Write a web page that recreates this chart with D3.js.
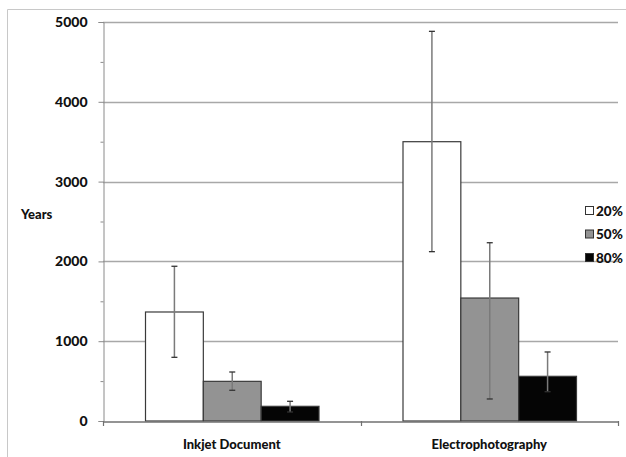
<!DOCTYPE html>
<html><head><meta charset="utf-8">
<script src="https://cdn.jsdelivr.net/npm/d3@7"></script>
<style>body{margin:0;background:#fff}svg{display:block}</style>
</head><body>
<svg id="c" width="626" height="457"></svg>
<script>
const categories = ["Inkjet Document", "Electrophotography"];
const seriesNames = ["20%", "50%", "80%"];
const seriesColors = ["#ffffff", "#939393", "#050505"];
const values20 = [1366, 3500];
const values50 = [497, 1541];
const values80 = [184, 560];
const errHigh20 = [1939, 4883];
const errLow20 = [798, 2122];
const errHigh50 = [614, 2234];
const errLow50 = [385, 276];
const errHigh80 = [247, 865];
const errLow80 = [113, 367];
const yTicks = [0, 1000, 2000, 3000, 4000, 5000];
const yMinorTicks = [500, 1500, 2500, 3500, 4500];

const series = [
  {name: seriesNames[0], color: seriesColors[0], v: values20, hi: errHigh20, lo: errLow20},
  {name: seriesNames[1], color: seriesColors[1], v: values50, hi: errHigh50, lo: errLow50},
  {name: seriesNames[2], color: seriesColors[2], v: values80, hi: errHigh80, lo: errLow80}
];

const svg = d3.select("#c");
const font = "Lato, 'Liberation Sans', sans-serif";
const fw = 900;
const L = 103, R = 618, T = 22, B = 421;

// outer frame
svg.append("line").attr("x1", 7.5).attr("x2", 626).attr("y1", 9.5).attr("y2", 9.5).attr("stroke", "#c8c8c8");
svg.append("line").attr("x1", 7.5).attr("x2", 7.5).attr("y1", 9.5).attr("y2", 457).attr("stroke", "#c8c8c8");

const y = d3.scaleLinear().domain([0, 5000]).range([B, T]);
const x0 = d3.scaleBand().domain(categories).range([L, R]).paddingInner(0).paddingOuter(0);
const groupPad = 42;
const x1 = d3.scaleBand().domain(seriesNames).range([groupPad, x0.bandwidth() - groupPad]);

// gridlines
svg.append("g").selectAll("line").data(yTicks.filter(d => d > 0)).join("line")
  .attr("x1", L).attr("x2", R)
  .attr("y1", d => Math.round(y(d)) + 0.5).attr("y2", d => Math.round(y(d)) + 0.5)
  .attr("stroke", "#a8a8a8").attr("stroke-width", 1.3);

// y axis
const yAxis = d3.axisLeft(y).tickValues(yTicks).tickSize(5).tickPadding(11).tickFormat(d3.format("d"));
const gy = svg.append("g").attr("transform", `translate(${L + 0.5},0)`).call(yAxis);
gy.select(".domain").attr("stroke", "#8a8a8a");
gy.selectAll(".tick line").attr("stroke", "#8a8a8a");
gy.selectAll(".tick text").attr("font-family", font).attr("font-weight", fw).attr("font-size", 14).attr("fill", "#111");
const gyMinor = svg.append("g").attr("transform", `translate(${L + 0.5},0)`)
  .call(d3.axisLeft(y).tickValues(yMinorTicks).tickSize(3).tickFormat(""));
gyMinor.select(".domain").remove();
gyMinor.selectAll(".tick line").attr("stroke", "#8a8a8a");

// bars
const groups = svg.append("g").selectAll("g").data(categories).join("g")
  .attr("transform", d => `translate(${x0(d)},0)`);
groups.each(function(cat, ci) {
  const g = d3.select(this);
  series.forEach(s => {
    const bx = x1(s.name);
    g.append("rect")
      .attr("x", bx + 0.5).attr("y", y(s.v[ci]))
      .attr("width", x1.bandwidth()).attr("height", B - y(s.v[ci]))
      .attr("fill", s.color).attr("stroke", "#3a3a3a").attr("stroke-width", 1.2);
  });
  series.forEach(s => {
    const cx = x1(s.name) + x1.bandwidth() / 2 + 0.5;
    g.append("line").attr("x1", cx).attr("x2", cx).attr("y1", y(s.hi[ci])).attr("y2", y(s.lo[ci]))
      .attr("stroke", "#7a7a7a").attr("stroke-width", 1.5);
    [s.hi[ci], s.lo[ci]].forEach(v => {
      g.append("line").attr("x1", cx - 3).attr("x2", cx + 3).attr("y1", y(v)).attr("y2", y(v))
        .attr("stroke", "#333").attr("stroke-width", 1.3);
    });
  });
});

// x axis
const xAxis = d3.axisBottom(x0).tickSize(0).tickPadding(18);
const gx = svg.append("g").attr("transform", `translate(0,${B + 0.5})`).call(xAxis);
gx.select(".domain").attr("stroke", "#707070").attr("stroke-width", 1.5);
gx.selectAll(".tick text").attr("font-family", font).attr("font-weight", fw).attr("font-size", 13).attr("fill", "#111");
// category boundary ticks
svg.append("g").selectAll("line").data([L, (L + R) / 2, R]).join("line")
  .attr("x1", d => Math.round(d) + 0.5).attr("x2", d => Math.round(d) + 0.5)
  .attr("y1", B).attr("y2", B + 5).attr("stroke", "#707070").attr("stroke-width", 1.2);

// y title
svg.append("text").attr("x", 21).attr("y", 219).text("Years")
  .attr("font-family", font).attr("font-weight", fw).attr("font-size", 13).attr("fill", "#111");

// legend
const lg = svg.append("g").attr("transform", "translate(585,206)");
const li = lg.selectAll("g").data(series).join("g").attr("transform", (d, i) => `translate(0,${i * 23.5})`);
li.append("rect").attr("x", 0.5).attr("y", 0.5).attr("width", 8).attr("height", 8)
  .attr("fill", d => d.color).attr("stroke", "#333");
li.append("text").attr("x", 11).attr("y", 9.5).text(d => d.name)
  .attr("font-family", font).attr("font-weight", fw).attr("font-size", 13.5).attr("fill", "#111");
</script>
</body></html>
